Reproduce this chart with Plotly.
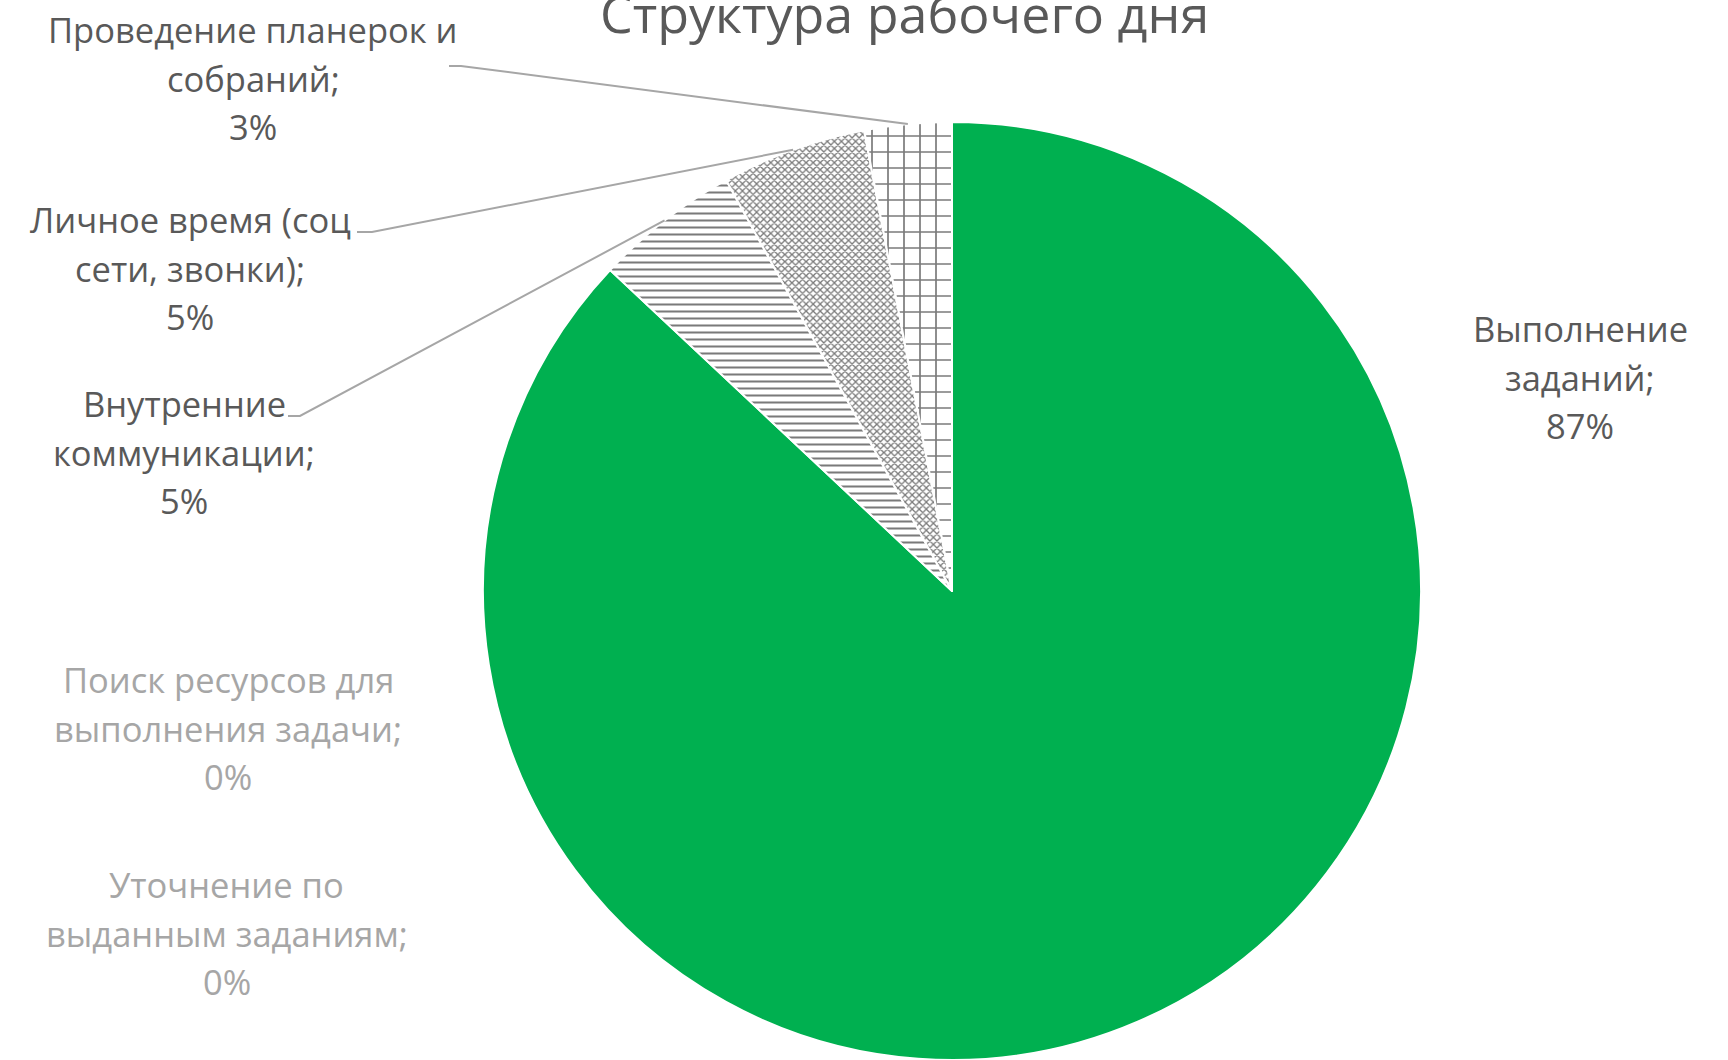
import math
import plotly.graph_objects as go

# ---- data ----
categories = [
    "Выполнение заданий",
    "Внутренние коммуникации",
    "Личное время (соц сети, звонки)",
    "Проведение планерок и собраний",
    "Поиск ресурсов для выполнения задачи",
    "Уточнение по выданным заданиям",
]
label_lines = [
    ["Выполнение", "заданий;"],
    ["Внутренние", "коммуникации;"],
    ["Личное время (соц", "сети, звонки);"],
    ["Проведение планерок и", "собраний;"],
    ["Поиск ресурсов для", "выполнения задачи;"],
    ["Уточнение по", "выданным заданиям;"],
]
values = [87, 5, 5, 3, 0, 0]
title_text = "Структура рабочего дня"

# ---- styles / layout ----
W, H = 1728, 1060
FONT = "Open Sans"
DARK = "#595959"
LIGHT = "#a6a6a6"
GREEN = "#00B050"
PAT = "#7a7a7a"

def px(x):
    return x / W

def py(y):
    return 1 - y / H

cx, cy, R = 952, 591, 469
dom_x = [px(cx - R), px(cx + R)]
dom_y = [max(0, py(cy + R)), py(cy - R)]

shapes_pat = ["", "-", "x", "+", "", ""]
pat_size = [8, 7, 5, 16, 8, 8]
pat_sol = [0.3, 0.29, 0.45, 0.2, 0.3, 0.3]
fill = [GREEN, "white", "white", "white", "white", "white"]

fig = go.Figure(go.Pie(
    labels=categories,
    values=values,
    sort=False,
    direction="clockwise",
    rotation=0,
    textinfo="none",
    hoverinfo="label+percent",
    domain=dict(x=dom_x, y=dom_y),
    marker=dict(
        colors=fill,
        line=dict(color="white", width=2),
        pattern=dict(
            shape=shapes_pat,
            fgcolor=[PAT] * 6,
            bgcolor=fill,
            size=pat_size,
            solidity=pat_sol,
            fillmode="replace",
        ),
    ),
))

# label placement: (center x, first baseline y) in px
label_pos = [
    (1580, 342),
    (184, 417),
    (190, 233),
    (253, 43),
    (228, 693),
    (227, 898),
]
FS = 34.5
LH = 48.5
OFF = 0.39 * FS

total = sum(values)
annotations = []
for i, (lines, v) in enumerate(zip(label_lines, values)):
    color = DARK if v > 0 else LIGHT
    all_lines = lines + [f"{v}%"]
    x0, b0 = label_pos[i]
    for k, t in enumerate(all_lines):
        yb = b0 + k * LH
        annotations.append(dict(
            x=px(x0), y=py(yb - OFF), xref="paper", yref="paper",
            text=t, showarrow=False, xanchor="center", yanchor="middle",
            font=dict(family=FONT, size=FS, color=color),
        ))

TS = 52
annotations.append(dict(
    x=px(904), y=py(33 - 0.39 * TS), xref="paper", yref="paper",
    text=title_text, showarrow=False, xanchor="center", yanchor="middle",
    font=dict(family=FONT, size=TS, color=DARK),
))

# leader lines from label anchors to slice mid-angle on the pie edge
leader_start = {
    3: [(449, 66), (461, 66)],
    2: [(357, 232), (372, 232)],
    1: [(288, 416), (300, 416)],
}
cum = []
c = 0
for v in values:
    cum.append(c)
    c += v
shapes = []
for i, pts in leader_start.items():
    mid = (cum[i] + values[i] / 2) / total * 2 * math.pi
    ex = cx + R * math.sin(mid)
    ey = cy - R * math.cos(mid)
    allp = pts + [(ex, ey)]
    path = "M " + " L ".join(f"{px(x):.5f},{py(y):.5f}" for x, y in allp)
    shapes.append(dict(type="path", xref="paper", yref="paper", path=path,
                       line=dict(color=LIGHT, width=2)))

fig.update_layout(
    width=W, height=H,
    margin=dict(l=0, r=0, t=0, b=0),
    paper_bgcolor="white", plot_bgcolor="white",
    showlegend=False,
    annotations=annotations,
    shapes=shapes,
)

fig.write_html("out.html",
               config={"displayModeBar": False},
               post_script="document.body.style.margin='0';document.body.style.overflow='hidden';")
